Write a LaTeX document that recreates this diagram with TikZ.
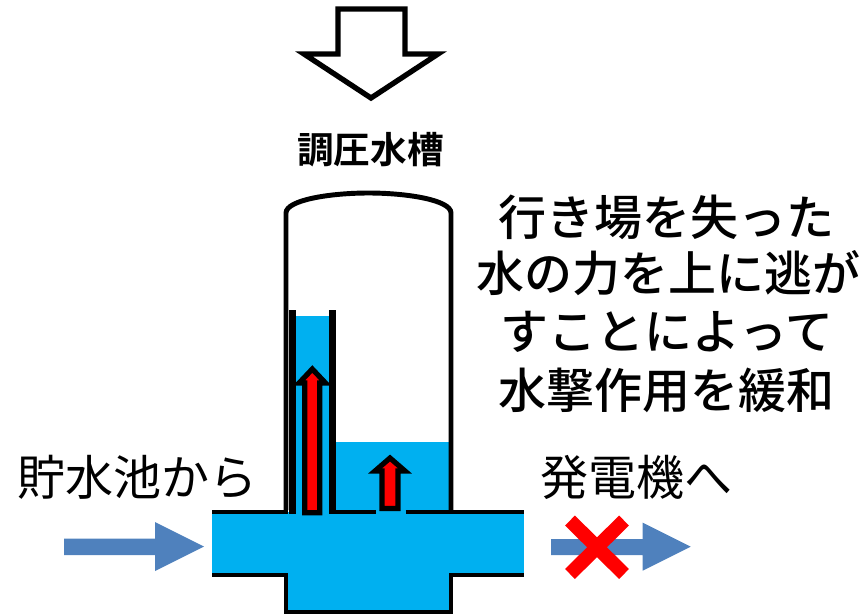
\documentclass[tikz,border=0pt]{standalone}
\usepackage{fontspec}
\setmainfont{Noto Sans CJK JP}[BoldFont={Noto Sans CJK JP Bold}]
\newfontfamily\jpmed{Noto Sans CJK JP Medium}
\definecolor{water}{HTML}{00B0F0}
\definecolor{flow}{HTML}{4F81BD}
\tikzset{
 x=0.75pt,y=-0.75pt,
 wall/.style={draw=black,line width=3.7pt,line cap=butt,line join=miter},
 thickwall/.style={draw=black,line width=5.4pt},
 flowarrow/.style={fill=flow,draw=none},
 redarrow/.style={fill=red,draw=black,line width=3.9pt,miter limit=10},
 bigarrow/.style={fill=white,draw=black,line width=4pt,miter limit=10},
 cross/.style={draw=red,line width=10.5pt},
 label/.style={inner sep=0pt,font=\fontsize{36}{40}\selectfont,text=black},
 bigtext/.style={inner sep=0pt,font=\jpmed\fontsize{36}{40}\selectfont,text=black},
 titletext/.style={inner sep=0pt,font=\bfseries\fontsize{27.5}{30}\selectfont,text=black}
}
\begin{document}
\begin{tikzpicture}
\useasboundingbox (0,0) rectangle (865,615);
% water
\fill[water] (212,512) rectangle (524,575);
\fill[water] (286,570) rectangle (451,611);
\fill[water] (296,316) rectangle (329,514);
\fill[water] (336,442) rectangle (449,514);
% tank
\draw[wall] (286,510) -- (286,213) .. controls (286,200) and (330,193) .. (368.5,193) .. controls (407,193) and (451,200) .. (451,213) -- (451,512);
% horizontal pipe
\draw[wall] (212,512) -- (288,512);
\draw[wall] (449,512) -- (524,512);
\draw[wall] (212,575) -- (288,575);
\draw[wall] (449,575) -- (524,575);
\draw[wall] (286,573) -- (286,612) -- (451,612) -- (451,573);
% inner pipe
\draw[thickwall] (292.3,310) -- (292.3,514);
\draw[thickwall] (332.5,310) -- (332.5,514);
\draw[wall] (330,512) -- (375.7,512);
\draw[wall] (405.7,512) -- (451,512);
% red arrows
\path[redarrow] (312.3,369) -- (325.5,383) -- (319.8,383) -- (319.8,512.7) -- (304.8,512.7) -- (304.8,383) -- (299.1,383) -- cycle;
\path[redarrow] (390,458) -- (405,471) -- (398,471) -- (398,508.5) -- (382,508.5) -- (382,471) -- (375,471) -- cycle;
% flow arrows
\path[flowarrow] (64,538.5) -- (155,538.5) -- (155,522) -- (204,546.5) -- (155,571) -- (155,555) -- (64,555) -- cycle;
\path[flowarrow] (551,539) -- (642.7,539) -- (642.7,522.7) -- (690.7,546.7) -- (642.7,570.7) -- (642.7,555) -- (551,555) -- cycle;
\draw[cross] (570,520.5) -- (624,574);
\draw[cross] (624,520.5) -- (570,574);
% big arrow
\path[bigarrow] (338,9) -- (405,9) -- (405,54) -- (438,54) -- (371,98) -- (304,54) -- (338,54) -- cycle;
% text
\node[titletext] (title) at (370.5,150) {調圧水槽};
\node[bigtext] (l1) at (666,217) {行き場を失った};
\node[bigtext] (l2) at (668,273.5) {水の力を上に逃が};
\node[bigtext] (l3) at (667,332) {すことによって};
\node[bigtext] (l4) at (666,390) {水撃作用を緩和};
\node[label] (src) at (137.5,477) {貯水池から};
\node[label] (gen) at (636.5,477) {発電機へ};
\end{tikzpicture}
\end{document}
